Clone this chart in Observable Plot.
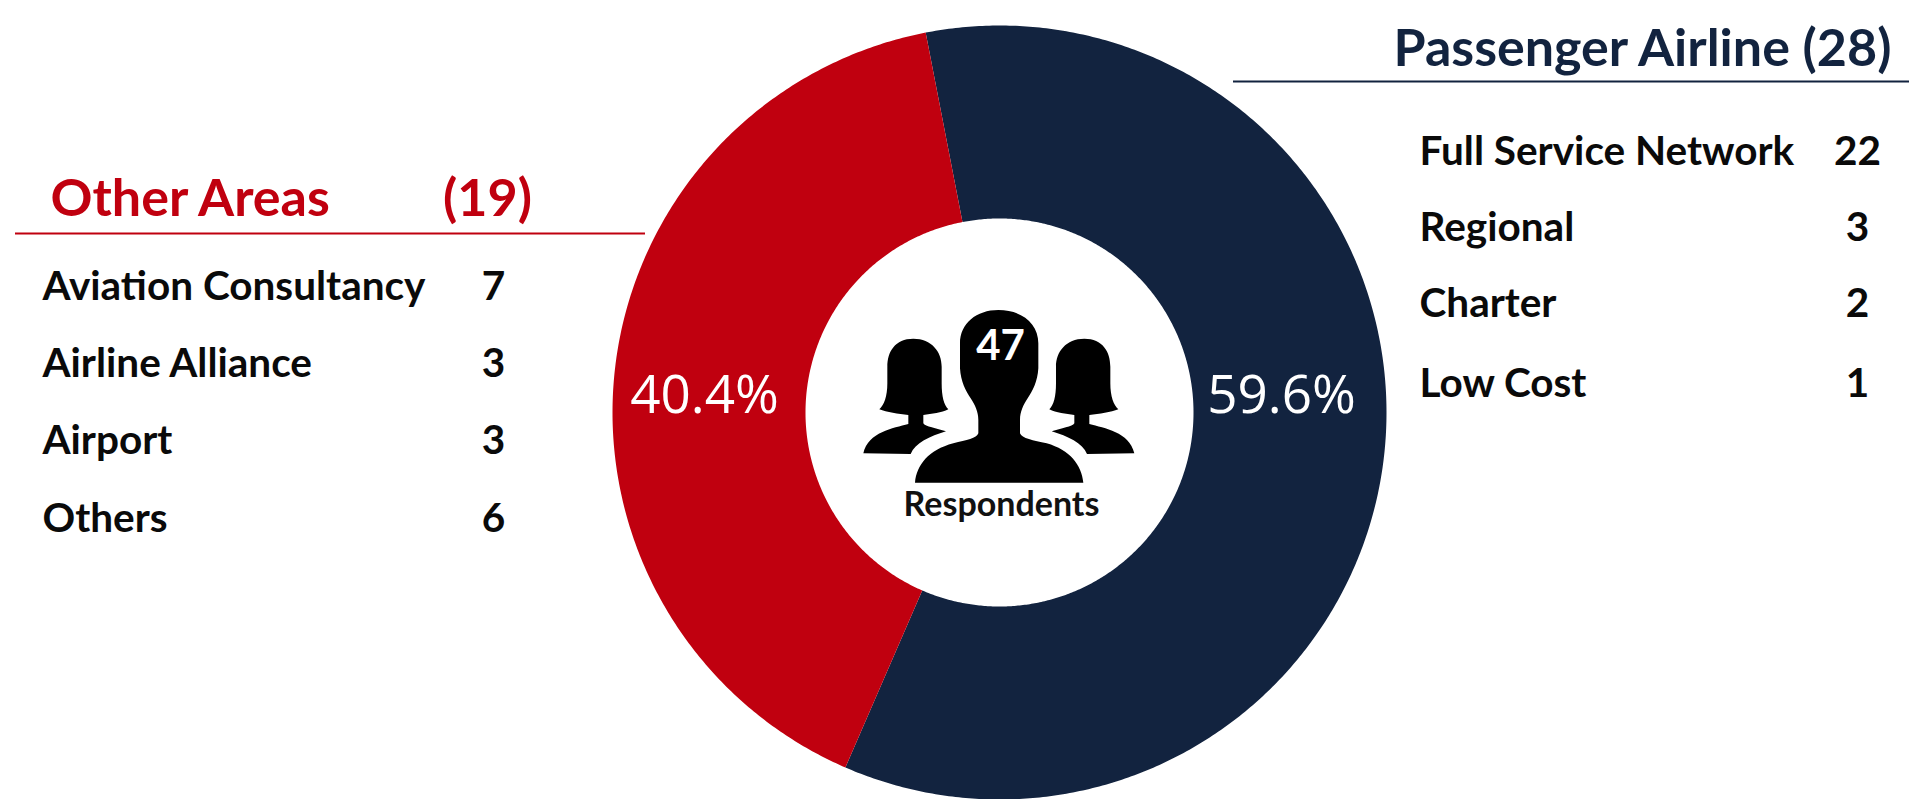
<!DOCTYPE html>
<html>
<head>
<meta charset="utf-8">
<script src="https://cdn.jsdelivr.net/npm/d3@7"></script>
<script src="https://cdn.jsdelivr.net/npm/@observablehq/plot@0.6"></script>
<style>
html,body{margin:0;padding:0;background:#fff;overflow:hidden}
svg{display:block;max-width:none}
</style>
</head>
<body>
<div id="chart"></div>
<script>
// data
const groupNames = ["Passenger Airline", "Other Areas"];
const groupCounts = [28, 19];
const groupColors = ["#12233f", "#c0000f"];
const totalLabel = "47";
const centerLabel = "Respondents";
const passengerLabels = ["Full Service Network", "Regional", "Charter", "Low Cost"];
const passengerValues = [22, 3, 2, 1];
const otherLabels = ["Aviation Consultancy", "Airline Alliance", "Airport", "Others"];
const otherValues = [7, 3, 3, 6];

// layout
const W = 1913, H = 799;
const cx = 999, cy = 412, rOuter = 387, rInner = 194, startDeg = -11;
const total = d3.sum(groupCounts);
const fmt = d3.format(".1%");

const ring = [];
let a0 = startDeg;
groupNames.forEach((name, i) => {
  const a1 = a0 + groupCounts[i] / total * 360;
  const steps = Math.ceil(a1 - a0) * 2;
  const pt = (r, a) => ({name, x: cx + r * Math.sin(a * Math.PI / 180), y: cy - r * Math.cos(a * Math.PI / 180)});
  for (let s = 0; s <= steps; s++) ring.push(pt(rOuter, a0 + (a1 - a0) * s / steps));
  for (let s = steps; s >= 0; s--) ring.push(pt(rInner, a0 + (a1 - a0) * s / steps));
  a0 = a1;
});

const bold = "Lato, Carlito, Calibri, sans-serif";
const rowsAt = (labels, values, ys, xL, xV) => [
  Plot.text(labels, {x: xL, y: (d, i) => ys[i], text: d => d, textAnchor: "start", lineAnchor: "bottom", fontFamily: bold, fontWeight: 700, fontSize: 40.5, fill: "#0a0a0a"}),
  Plot.text(values, {x: xV, y: (d, i) => ys[i], text: d => String(d), textAnchor: "middle", lineAnchor: "bottom", fontFamily: bold, fontWeight: 700, fontSize: 40.5, fill: "#0a0a0a"})
];
const single = (str, x, y, o) => Plot.text([str], {x: () => x, y: () => y, text: d => d, lineAnchor: "bottom", ...o});

// decorative people icon, drawn in the plot's coordinate system
const personPath = "M405,608 C410,555 445,510 520,490 C560,480 590,475 595,460 L595,420 C595,395 585,375 572,355 C558,335 542,305 540,265 L540,190 C540,130 590,90 655,90 C725,90 775,130 775,190 L775,265 C773,305 757,335 743,355 C730,375 720,395 720,420 L720,460 C725,475 760,482 800,490 C870,510 905,555 910,608 Z";
const womanPath = "M400,176 C345,176 322,215 322,260 L322,310 C322,350 312,375 298,388 C320,397 355,402 385,405 L385,432 C340,445 265,455 250,520 L392,522 C405,490 450,468 498,454 C470,445 435,440 430,430 L430,405 C455,402 485,398 505,388 C492,375 485,350 485,310 L485,260 C485,215 455,176 400,176 Z";
const iconMark = (index, {x, y}) => {
  const g = d3.create("svg:g").attr("transform", `translate(${x(780)},${y(280)}) scale(${1/3})`).attr("fill", "#000");
  g.append("path").attr("d", personPath);
  g.append("path").attr("d", womanPath);
  g.append("path").attr("d", womanPath).attr("transform", "translate(1313,0) scale(-1,1)");
  return g.node();
};

const plot = Plot.plot({
  width: W, height: H,
  margin: 0,
  style: {background: "#fff"},
  x: {domain: [0, W], range: [0, W], axis: null},
  y: {domain: [0, H], range: [0, H], axis: null},
  color: {domain: groupNames, range: groupColors},
  marks: [
    Plot.line(ring, {x: "x", y: "y", z: "name", fill: "name", stroke: "none"}),
    iconMark,
    single(fmt(groupCounts[0] / total), 1281, 412, {fontFamily: "'Open Sans', sans-serif", fontSize: 53, fill: "#fff", textAnchor: "middle"}),
    single(fmt(groupCounts[1] / total), 704, 412, {fontFamily: "'Open Sans', sans-serif", fontSize: 53, fill: "#fff", textAnchor: "middle"}),
    single(totalLabel, 1000, 359, {fontFamily: bold, fontWeight: 700, fontSize: 42, fill: "#fff", textAnchor: "middle"}),
    single(centerLabel, 1001, 515, {fontFamily: bold, fontWeight: 700, fontSize: 34, fill: "#111", textAnchor: "middle"}),
    single(`${groupNames[0]} (${groupCounts[0]})`, 1393, 65, {fontFamily: bold, fontWeight: 700, fontSize: 52, fill: groupColors[0], textAnchor: "start"}),
    Plot.ruleY([81], {x1: 1233, x2: 1909, stroke: groupColors[0], strokeWidth: 2}),
    single(groupNames[1], 50, 215, {fontFamily: bold, fontWeight: 700, fontSize: 52, fill: groupColors[1], textAnchor: "start"}),
    single(`(${groupCounts[1]})`, 487, 215, {fontFamily: bold, fontWeight: 700, fontSize: 52, fill: groupColors[1], textAnchor: "middle"}),
    Plot.ruleY([233], {x1: 15, x2: 645, stroke: groupColors[1], strokeWidth: 2}),
    ...rowsAt(otherLabels, otherValues, [299, 376, 453, 531], 42, 493),
    ...rowsAt(passengerLabels, passengerValues, [164, 240, 316, 396], 1419, 1857)
  ]
});
document.getElementById("chart").append(plot);
</script>
</body>
</html>
